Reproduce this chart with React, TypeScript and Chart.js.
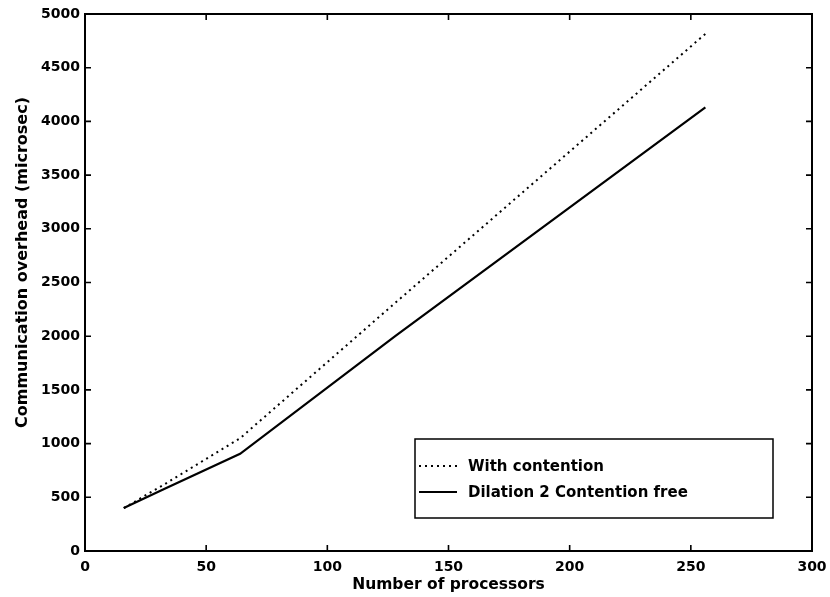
import React, { useEffect, useRef } from "react";
import { Chart, registerables } from "chart.js";

Chart.register(...registerables);

// Number of processors and measured communication overhead (microseconds)
const processors = [16, 32, 64, 128, 256];
const withContention = [400, 610, 1050, 2310, 4815];
const contentionFree = [400, 570, 905, 2000, 4130];

const xTicks = [0, 50, 100, 150, 200, 250, 300];
const yTicks = [0, 500, 1000, 1500, 2000, 2500, 3000, 3500, 4000, 4500, 5000];

const seriesLabels = ["With contention", "Dilation 2 Contention free"];
const xTitle = "Number of processors";
const yTitle = "Communication overhead (microsec)";

const FONT = "'DejaVu Sans', 'Liberation Sans', sans-serif";
const DOT_DASH = [2, 4];

// Frame around the plot with inward-pointing tick marks on all four sides
const framePlugin = {
  id: "frame",
  afterDatasetsDraw(chart: any) {
    const { ctx, chartArea } = chart;
    const { left, right, top, bottom } = chartArea;
    const xs = chart.scales.x;
    const ys = chart.scales.y;
    const len = 6;
    ctx.save();
    ctx.strokeStyle = "#000";
    ctx.lineWidth = 1.6;
    ctx.beginPath();
    xTicks.forEach((v) => {
      const px = xs.getPixelForValue(v);
      ctx.moveTo(px, bottom);
      ctx.lineTo(px, bottom - len);
      ctx.moveTo(px, top);
      ctx.lineTo(px, top + len);
    });
    yTicks.forEach((v) => {
      const py = ys.getPixelForValue(v);
      ctx.moveTo(left, py);
      ctx.lineTo(left + len, py);
      ctx.moveTo(right, py);
      ctx.lineTo(right - len, py);
    });
    ctx.stroke();
    ctx.lineWidth = 2;
    ctx.strokeRect(left, top, right - left, bottom - top);

    // vertical axis title, set slightly above the plot's mid-height
    ctx.translate(23, (top + bottom) / 2 - 20);
    ctx.rotate(-Math.PI / 2);
    ctx.font = `bold 16px ${FONT}`;
    ctx.fillStyle = "#000";
    ctx.textAlign = "center";
    ctx.textBaseline = "middle";
    ctx.fillText(yTitle, 0, 0);
    ctx.restore();
  },
};

// Boxed legend placed inside the lower-right part of the plot
const boxLegendPlugin = {
  id: "boxLegend",
  afterDraw(chart: any) {
    const { ctx, chartArea } = chart;
    const w = 358;
    const h = 79;
    const x0 = chartArea.right - 39 - w;
    const y0 = chartArea.bottom - 33 - h;
    ctx.save();
    ctx.fillStyle = "#fff";
    ctx.fillRect(x0, y0, w, h);
    ctx.strokeStyle = "#000";
    ctx.lineWidth = 1.5;
    ctx.strokeRect(x0, y0, w, h);
    ctx.font = `bold 15px ${FONT}`;
    ctx.fillStyle = "#000";
    ctx.textBaseline = "middle";
    ctx.textAlign = "left";
    chart.data.datasets.forEach((ds: any, i: number) => {
      const cy = y0 + 27 + i * 26;
      ctx.beginPath();
      ctx.lineWidth = 2;
      ctx.setLineDash(ds.borderDash || []);
      ctx.moveTo(x0 + 4, cy);
      ctx.lineTo(x0 + 42, cy);
      ctx.stroke();
      ctx.setLineDash([]);
      ctx.fillText(ds.label, x0 + 53, cy + 1);
    });
    ctx.restore();
  },
};

export default function App() {
  const canvasRef = useRef<HTMLCanvasElement | null>(null);

  useEffect(() => {
    const canvas = canvasRef.current;
    if (!canvas) return;
    const chart = new Chart(canvas, {
      type: "line",
      data: {
        datasets: [
          {
            label: seriesLabels[0],
            data: processors.map((p, i) => ({ x: p, y: withContention[i] })),
            borderColor: "#000",
            borderWidth: 2,
            borderDash: DOT_DASH,
            pointRadius: 0,
            tension: 0,
            fill: false,
          },
          {
            label: seriesLabels[1],
            data: processors.map((p, i) => ({ x: p, y: contentionFree[i] })),
            borderColor: "#000",
            borderWidth: 2.2,
            pointRadius: 0,
            tension: 0,
            fill: false,
          },
        ],
      },
      options: {
        responsive: false,
        animation: false,
        layout: { padding: { top: 14, right: 18, left: 0, bottom: 0 } },
        plugins: {
          legend: { display: false },
          tooltip: { enabled: false },
        },
        scales: {
          x: {
            type: "linear",
            min: 0,
            max: 300,
            afterFit: (s: any) => {
              s.height = 46;
              s.paddingLeft = 0;
              s.paddingRight = 0;
            },
            afterBuildTicks: (s: any) => {
              s.ticks = xTicks.map((v) => ({ value: v }));
            },
            grid: { display: false, drawTicks: false },
            border: { display: false },
            ticks: {
              color: "#000",
              padding: 8,
              callback: (v: any) => String(v),
              font: { family: FONT, size: 14, weight: "bold" },
            },
            title: {
              display: true,
              text: xTitle,
              color: "#000",
              padding: { top: 0, bottom: 3 },
              font: { family: FONT, size: 15.5, weight: "bold" },
            },
          },
          y: {
            type: "linear",
            min: 0,
            max: 5000,
            afterFit: (s: any) => {
              s.width = 85;
              s.paddingTop = 0;
              s.paddingBottom = 0;
            },
            afterBuildTicks: (s: any) => {
              s.ticks = yTicks.map((v) => ({ value: v }));
            },
            grid: { display: false, drawTicks: false },
            border: { display: false },
            ticks: {
              color: "#000",
              padding: 5,
              callback: (v: any) => String(v),
              font: { family: FONT, size: 14, weight: "bold" },
            },
            title: { display: false },
          },
        },
      },
      plugins: [framePlugin, boxLegendPlugin],
    });
    return () => chart.destroy();
  }, []);

  return (
    <div style={{ position: "absolute", left: 0, top: 0, width: 830, height: 597, background: "#fff" }}>
      <canvas ref={canvasRef} width={830} height={597} />
    </div>
  );
}
